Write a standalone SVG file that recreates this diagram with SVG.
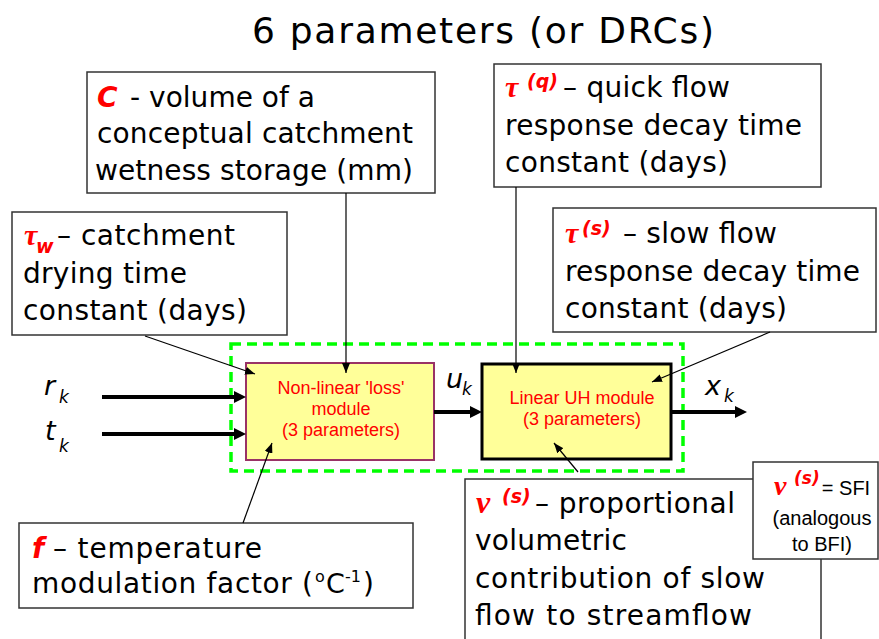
<svg xmlns="http://www.w3.org/2000/svg" width="879" height="639" viewBox="0 0 879 639">
<style>
.box{fill:#fff;stroke:#333;stroke-width:1.5}
.t{font-family:"DejaVu Sans","Open Sans",sans-serif;font-size:28px;fill:#000}
.sym{font-family:"Liberation Serif","DejaVu Serif",serif;font-style:italic;font-weight:bold;fill:#f00}
.rsym{font-family:"DejaVu Sans",sans-serif;font-style:italic;font-weight:bold;fill:#f00}
.mod{font-family:"Liberation Sans",Arial,sans-serif;font-size:18px;fill:#f00;text-anchor:middle}
.var{font-family:"DejaVu Sans",sans-serif;font-style:italic;fill:#000}
.ar{font-family:"Liberation Sans",Arial,sans-serif;font-size:20px;fill:#000;text-anchor:middle}
.thick{stroke:#000;stroke-width:4;fill:none}
.thin{stroke:#000;stroke-width:1.2;fill:none}
</style>
<defs>
<marker id="big" viewBox="0 0 12 12" refX="2" refY="6" markerWidth="12" markerHeight="12" markerUnits="userSpaceOnUse" orient="auto">
<path d="M0,0 L12,6 L0,12 z" fill="#000"/>
</marker>
<marker id="small" viewBox="0 0 10 8" refX="10" refY="4" markerWidth="10" markerHeight="8" markerUnits="userSpaceOnUse" orient="auto">
<path d="M0,0 L10,4 L0,8 z" fill="#000"/>
</marker>
</defs>
<rect width="879" height="639" fill="#fff"/>

<text id="title" class="t" x="252" y="43" style="font-size:36px" textLength="462">6 parameters (or DRCs)</text>

<g id="frame">
<rect x="231" y="344" width="452" height="127" fill="none" stroke="#00ff00" stroke-width="3.5" stroke-dasharray="10 6"/>
</g>

<g id="nonlinear">
<rect x="246" y="363" width="188" height="97" fill="#ffff99" stroke="#993366" stroke-width="2"/>
<text class="mod" x="341" y="394">Non-linear 'loss'</text>
<text class="mod" x="341" y="415">module</text>
<text class="mod" x="341" y="436">(3 parameters)</text>
</g>

<g id="linear">
<rect x="482" y="364" width="189" height="95" fill="#ffff99" stroke="#000" stroke-width="3"/>
<text class="mod" x="582" y="404">Linear UH module</text>
<text class="mod" x="582" y="425">(3 parameters)</text>
</g>

<g id="boxC">
<rect class="box" x="87" y="72" width="348" height="121"/>
<text class="rsym" x="97" y="107" style="font-size:28px">C</text>
<text class="t" x="130" y="107" textLength="185">- volume of a</text>
<text class="t" x="97" y="143" textLength="316">conceptual catchment</text>
<text class="t" x="95" y="180" textLength="318">wetness storage (mm)</text>
</g>

<g id="boxTq">
<rect class="box" x="494" y="64" width="327" height="123"/>
<text class="sym" x="505" y="97" style="font-size:30px">τ</text>
<text class="rsym" x="527" y="88" style="font-size:19px">(q)</text>
<text class="t" x="563" y="97" textLength="167">– quick flow</text>
<text class="t" x="505" y="135" textLength="297">response decay time</text>
<text class="t" x="505" y="172" textLength="223">constant (days)</text>
</g>

<g id="boxTw">
<rect class="box" x="12" y="212" width="275" height="123"/>
<text class="sym" x="24" y="245" style="font-size:30px">τ</text>
<text class="rsym" x="36" y="253" style="font-size:19px">w</text>
<text class="t" x="57" y="245" textLength="178">– catchment</text>
<text class="t" x="23" y="283" textLength="164">drying time</text>
<text class="t" x="23" y="320" textLength="224">constant (days)</text>
</g>

<g id="boxTs">
<rect class="box" x="553" y="208" width="323" height="124"/>
<text class="sym" x="565" y="243" style="font-size:30px">τ</text>
<text class="rsym" x="582" y="235" style="font-size:19px">(s)</text>
<text class="t" x="623" y="243" textLength="154">– slow flow</text>
<text class="t" x="565" y="281" textLength="295">response decay time</text>
<text class="t" x="565" y="318" textLength="222">constant (days)</text>
</g>

<g id="boxF">
<rect class="box" x="19" y="523" width="394" height="85"/>
<text class="rsym" x="32" y="558" style="font-size:28px">f</text>
<text class="t" x="53" y="558" textLength="209">– temperature</text>
<text class="t" x="32" y="593" textLength="281">modulation factor (</text>
<text class="t" x="315" y="582" style="font-size:16px">o</text>
<text class="t" x="326" y="593" style="font-size:27px">C</text>
<text class="t" x="345" y="582" style="font-size:16px">-1</text>
<text class="t" x="363" y="593">)</text>
</g>

<g id="boxNu">
<rect class="box" x="465" y="479" width="356" height="170"/>
<text class="sym" x="476" y="513" style="font-size:32px">ν</text>
<text class="rsym" x="502" y="503" style="font-size:19px">(s)</text>
<text class="t" x="535" y="513" textLength="200">– proportional</text>
<text class="t" x="475" y="550" textLength="152">volumetric</text>
<text class="t" x="475" y="588" textLength="290">contribution of slow</text>
<text class="t" x="475" y="625" textLength="277">flow to streamflow</text>
</g>

<g id="boxSFI">
<rect class="box" x="753" y="462" width="125" height="97"/>
<text class="sym" x="774" y="495" style="font-size:28px">ν</text>
<text class="rsym" x="794" y="484" style="font-size:17px">(s)</text>
<text class="ar" x="846" y="495">= SFI</text>
<text class="ar" x="822" y="525">(analogous</text>
<text class="ar" x="822" y="551">to BFI)</text>
</g>

<g id="labels">
<text class="var" x="44" y="395" style="font-size:27px">r</text>
<text class="var" x="59" y="403" style="font-size:17px">k</text>
<text class="var" x="45" y="440" style="font-size:27px">t</text>
<text class="var" x="59" y="452" style="font-size:17px">k</text>
<text class="var" x="446" y="388" style="font-size:27px">u</text>
<text class="var" x="462" y="395" style="font-size:17px">k</text>
<text class="var" x="705" y="395" style="font-size:27px">x</text>
<text class="var" x="724" y="402" style="font-size:17px">k</text>
</g>

<g id="connectors">
<line class="thick" x1="102" y1="397" x2="236" y2="397" marker-end="url(#big)"/>
<line class="thick" x1="102" y1="434" x2="236" y2="434" marker-end="url(#big)"/>
<line class="thick" x1="434" y1="412" x2="472" y2="412" marker-end="url(#big)"/>
<line class="thick" x1="672" y1="412" x2="737" y2="412" marker-end="url(#big)"/>
<line class="thin" x1="346" y1="193" x2="346" y2="373" marker-end="url(#small)"/>
<line class="thin" x1="516" y1="187" x2="516" y2="373" marker-end="url(#small)"/>
<line class="thin" x1="145" y1="336" x2="255" y2="374" marker-end="url(#small)"/>
<line class="thin" x1="770" y1="332" x2="652" y2="382" marker-end="url(#small)"/>
<line class="thin" x1="243" y1="523" x2="272" y2="443" marker-end="url(#small)"/>
<line class="thin" x1="578" y1="472" x2="554" y2="443" marker-end="url(#small)"/>
</g>
</svg>
